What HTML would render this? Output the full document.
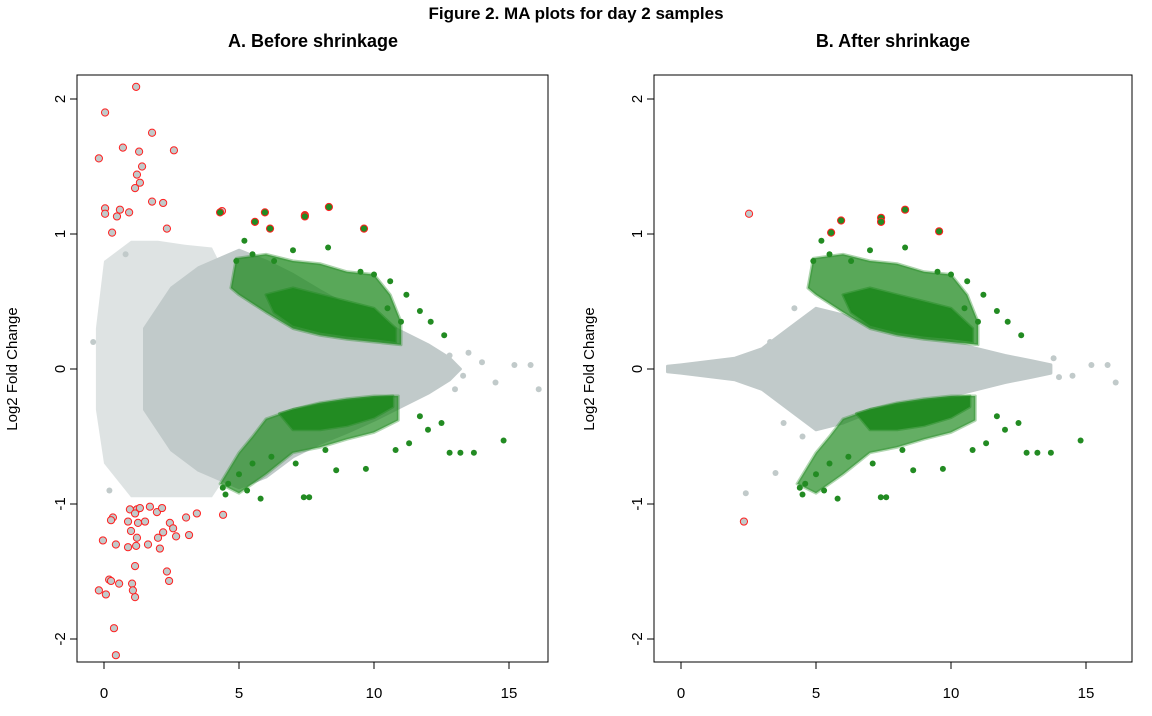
<!DOCTYPE html>
<html><head><meta charset="utf-8"><style>
body{margin:0;background:#fff;}
svg text{font-family:"Liberation Sans",sans-serif;}
</style></head><body>
<svg id="chart" width="1152" height="711" viewBox="0 0 1152 711" xmlns="http://www.w3.org/2000/svg">
<text x="576" y="19" text-anchor="middle" font-size="17" font-weight="bold">Figure 2. MA plots for day 2 samples</text>
<text x="313" y="47" text-anchor="middle" font-size="18" font-weight="bold">A. Before shrinkage</text>
<text x="893" y="47" text-anchor="middle" font-size="18" font-weight="bold">B. After shrinkage</text>
<g id="pA"></g>
<g id="pB"></g>
</svg>
<script>
const xTicks=[0,5,10,15];
const yTicks=[-2,-1,0,1,2];
// Panel A data
const coreA=[[1.5,0.3],[2.5,0.6],[3.5,0.75],[5,0.88],[6,0.8],[7,0.7],[8,0.58],[9,0.47],[10,0.38],[11,0.28],[12,0.18],[12.8,0.08],[13.2,0],[12.8,-0.08],[12,-0.18],[11,-0.28],[10,-0.38],[9,-0.47],[8,-0.55],[7,-0.65],[6,-0.8],[5,-0.88],[3.5,-0.75],[2.5,-0.6],[1.5,-0.3]];
const sparseA=[[-0.3,0.3],[0,0.8],[1,0.95],[2,0.95],[3,0.92],[4,0.9],[4.5,0.7],[4.5,-0.8],[4,-0.95],[2,-0.95],[1,-0.95],[0,-0.7],[-0.3,-0.3]];
const grayPtsA=[[15.2,0.03],[15.8,0.03],[16.1,-0.15],[14.5,-0.1],[13.5,0.12],[14,0.05],[13,-0.15],[12.8,0.1],[-0.4,0.2],[0.2,-0.9],[0.8,0.85],[13.3,-0.05]];
const redA=[[1.19,2.09],[0.04,1.90],[-0.19,1.56],[0.70,1.64],[1.78,1.75],[1.30,1.61],[2.59,1.62],[1.41,1.50],[1.22,1.44],[1.33,1.38],[1.15,1.34],[1.78,1.24],[2.19,1.23],[0.04,1.19],[0.04,1.15],[0.59,1.18],[0.48,1.13],[0.93,1.16],[0.30,1.01],[2.33,1.04],[4.37,1.17],[4.41,-1.08],[-0.04,-1.27],[0.33,-1.10],[0.26,-1.12],[-0.19,-1.64],[0.19,-1.56],[0.26,-1.57],[0.56,-1.59],[0.07,-1.67],[1.04,-1.59],[1.15,-1.69],[0.37,-1.92],[0.44,-2.12],[0.96,-1.04],[1.22,-1.04],[1.33,-1.03],[1.15,-1.07],[1.70,-1.02],[1.96,-1.06],[2.15,-1.03],[1.52,-1.13],[0.89,-1.13],[1.26,-1.14],[2.44,-1.14],[2.67,-1.24],[2.56,-1.18],[3.15,-1.23],[2.19,-1.21],[3.04,-1.10],[3.44,-1.07],[1.00,-1.20],[1.22,-1.25],[1.63,-1.30],[2.00,-1.25],[2.07,-1.33],[1.19,-1.31],[0.89,-1.32],[0.44,-1.30],[1.15,-1.46],[2.33,-1.50],[2.41,-1.57],[1.07,-1.64]];
const greenRedA=[[4.30,1.16],[5.59,1.09],[5.96,1.16],[6.15,1.04],[7.44,1.14],[7.44,1.13],[8.33,1.20],[9.63,1.04]];
// Shared green
const greenUpSparse=[[4.7,0.6],[4.9,0.82],[6,0.85],[7,0.8],[8,0.78],[9,0.72],[10,0.7],[10.6,0.55],[11,0.35],[11,0.18],[10,0.2],[9,0.22],[8,0.25],[7,0.3],[6,0.42],[5,0.55]];
const greenUpDense=[[6,0.55],[7,0.6],[8,0.55],[9,0.5],[10,0.45],[10.8,0.3],[10.8,0.2],[10,0.22],[9,0.24],[8,0.27],[7,0.32],[6.3,0.42]];
const greenDownSparse=[[4.3,-0.85],[5,-0.92],[6,-0.78],[7,-0.62],[8,-0.58],[9,-0.52],[10,-0.47],[10.9,-0.38],[10.9,-0.2],[10,-0.2],[9,-0.22],[8,-0.25],[7,-0.3],[6,-0.37],[5.5,-0.5],[5,-0.62]];
const greenDownDense=[[6.5,-0.33],[7,-0.45],[8,-0.45],[9,-0.42],[10,-0.36],[10.7,-0.28],[10.7,-0.2],[10,-0.21],[9,-0.23],[8,-0.26],[7,-0.3]];
const greenPts=[[4.4,-0.88],[4.6,-0.85],[4.5,-0.93],[5.0,-0.78],[5.3,-0.9],[5.8,-0.96],[5.5,-0.7],[6.2,-0.65],[7.1,-0.7],[7.4,-0.95],[7.6,-0.95],[8.2,-0.6],[8.6,-0.75],[9.7,-0.74],[10.8,-0.6],[11.3,-0.55],[12.0,-0.45],[12.8,-0.62],[13.2,-0.62],[13.7,-0.62],[14.8,-0.53],[12.5,-0.4],[11.7,-0.35],[4.9,0.8],[5.2,0.95],[5.5,0.85],[6.3,0.8],[7.0,0.88],[8.3,0.9],[9.5,0.72],[10.0,0.7],[10.6,0.65],[11.2,0.55],[11.7,0.43],[12.1,0.35],[12.6,0.25],[11.0,0.35],[10.5,0.45]];
// Panel B data
const coreB=[[-0.5,0.02],[0,0.03],[2,0.08],[3,0.15],[4,0.3],[5,0.45],[6,0.4],[7,0.32],[8,0.28],[9,0.24],[10,0.2],[11,0.15],[12,0.1],[13,0.06],[13.7,0.03],[13.7,-0.03],[13,-0.06],[12,-0.1],[11,-0.15],[10,-0.2],[9,-0.24],[8,-0.28],[7,-0.32],[6,-0.4],[5,-0.45],[4,-0.3],[3,-0.15],[2,-0.08],[0,-0.03],[-0.5,-0.02]];
const grayPtsB=[[2.4,-0.92],[3.5,-0.77],[15.2,0.03],[15.8,0.03],[16.1,-0.1],[14.5,-0.05],[13.8,0.08],[14,-0.06],[3.3,0.2],[3.8,-0.4],[4.2,0.45],[4.5,-0.5]];
const redB=[[2.52,1.15],[2.33,-1.13]];
const greenRedB=[[5.56,1.01],[5.93,1.10],[7.41,1.12],[7.41,1.09],[8.30,1.18],[9.56,1.02]];

const NS="http://www.w3.org/2000/svg";
function mk(p,tag,attrs){const e=document.createElementNS(NS,tag);for(const k in attrs)e.setAttribute(k,attrs[k]);p.appendChild(e);return e;}
function panel(g,L,R,x0,core,sparse,grayPts,red,greenRed){
  const T=75,B=662;
  const sx=v=>x0+v*27, sy=v=>369-v*135;
  const poly=a=>a.map(p=>sx(p[0]).toFixed(1)+","+sy(p[1]).toFixed(1)).join(" ");
  if(sparse){const s=mk(g,'polygon',{points:poly(sparse),fill:'#c3cccc','fill-opacity':'0.55'});
    
    }
  const c=mk(g,'polygon',{points:poly(core),fill:'#c1caca',stroke:'#c1caca','stroke-width':'3','stroke-linejoin':'round'});
  
  
  grayPts.forEach(p=>{const e=mk(g,'circle',{cx:sx(p[0]),cy:sy(p[1]),r:3,fill:'#c1caca'});
    
    });
  [[greenUpSparse,0.75,'green-band-up'],[greenDownSparse,0.7,'green-band-down'],[greenUpDense,1,'green-core-up'],[greenDownDense,1,'green-core-down']].forEach(b=>{
    const e=mk(g,'polygon',{points:poly(b[0]),fill:'#228b22','fill-opacity':b[1],stroke:'#228b22','stroke-opacity':b[1]*0.5,'stroke-width':'3','stroke-linejoin':'round'});
    
    });
  greenPts.forEach(p=>{const e=mk(g,'circle',{cx:sx(p[0]),cy:sy(p[1]),r:3,fill:'#228b22'});
    
    });
  red.forEach(p=>{const e=mk(g,'circle',{cx:sx(p[0]),cy:sy(p[1]),r:3.6,fill:'#c1caca',stroke:'#ff2020','stroke-width':'1'});
    
    });
  greenRed.forEach(p=>{const e=mk(g,'circle',{cx:sx(p[0]),cy:sy(p[1]),r:3.6,fill:'#228b22',stroke:'#ff2020','stroke-width':'1'});
    
    });
  const box=mk(g,'rect',{x:L,y:T,width:R-L,height:B-T,fill:'none',stroke:'#000','stroke-width':'1'});
  
  
  xTicks.forEach(t=>{const x=sx(t);
    const l=mk(g,'line',{x1:x,x2:x,y1:B,y2:B+7,stroke:'#000'});
    
    
    const tx=mk(g,'text',{x:x,y:698,'text-anchor':'middle','font-size':'15'});tx.textContent=t;
    
    });
  yTicks.forEach(t=>{const y=sy(t);
    const l=mk(g,'line',{x1:L-7,x2:L,y1:y,y2:y,stroke:'#000'});
    
    
    const tx=mk(g,'text',{x:L-12,y:y,'text-anchor':'middle','font-size':'15',transform:`rotate(-90 ${L-12} ${y})`});tx.textContent=t;
    
    });
  const yl=mk(g,'text',{x:L-60,y:369,'text-anchor':'middle','font-size':'15',transform:`rotate(-90 ${L-60} 369)`});yl.textContent='Log2 Fold Change';
  
  
}
panel(document.getElementById('pA'),77,548,104,coreA,sparseA,grayPtsA,redA,greenRedA);
panel(document.getElementById('pB'),654,1132,681,coreB,null,grayPtsB,redB,greenRedB);
</script>
</body></html>
